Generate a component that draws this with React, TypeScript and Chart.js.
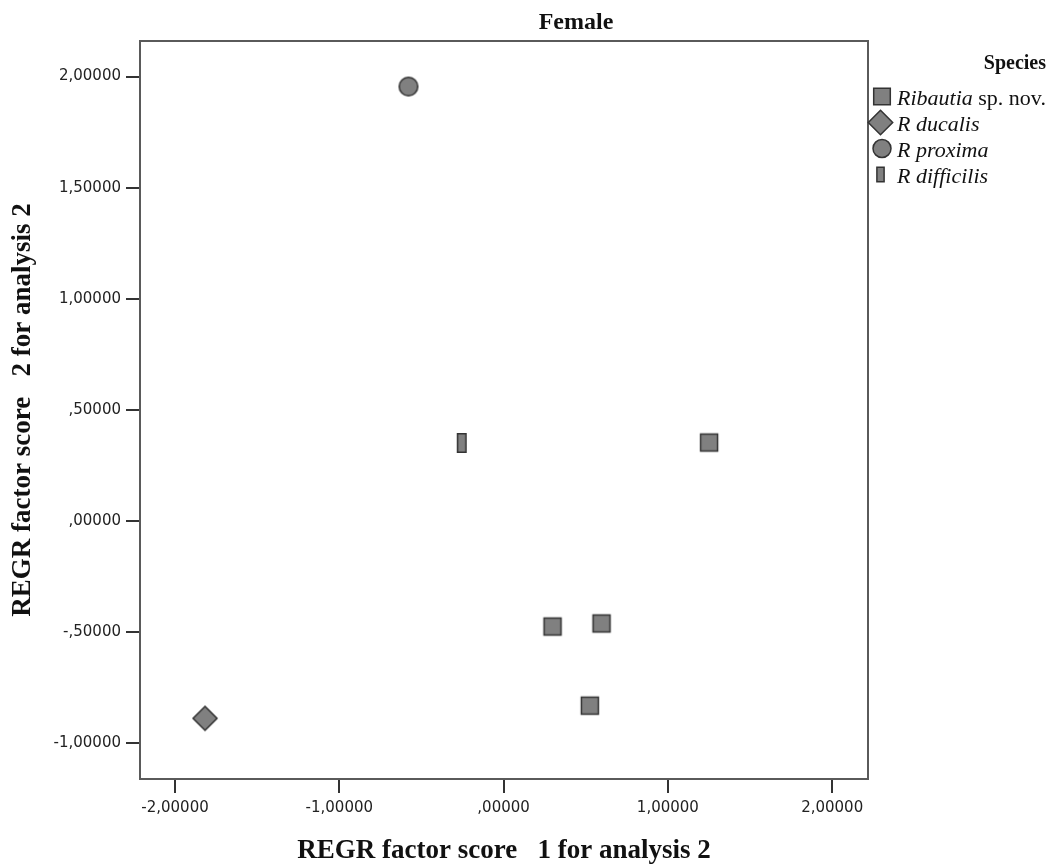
import React, { useEffect, useRef } from 'react';
import { Chart, registerables } from 'chart.js';

Chart.register(...registerables);

const chartTitle = 'Female';
const xAxisTitle = 'REGR factor score   1 for analysis 2';
const yAxisTitle = 'REGR factor score   2 for analysis 2';
const legendTitle = 'Species';

const seriesItalic = ['Ribautia', 'R ducalis', 'R proxima', 'R difficilis'];
const seriesPlain = [' sp. nov.', '', '', ''];
const seriesShapes = ['square', 'diamond', 'circle', 'bar'];

const ribautiaX = [1.251, 0.298, 0.596, 0.525];
const ribautiaY = [0.353, -0.475, -0.461, -0.831];
const ducalisX = [-1.817];
const ducalisY = [-0.888];
const proximaX = [-0.579];
const proximaY = [1.955];
const difficilisX = [-0.255];
const difficilisY = [0.351];

const seriesX = [ribautiaX, ducalisX, proximaX, difficilisX];
const seriesY = [ribautiaY, ducalisY, proximaY, difficilisY];

const xTicks = [-2, -1, 0, 1, 2];
const yTicks = [-1, -0.5, 0, 0.5, 1, 1.5, 2];
const xRange = [-2.213, 2.218];
const yRange = [-1.161, 2.16];

const FILL = '#808080';
const STROKE = '#333333';

const fmt = (v: number) => {
  const s = Math.abs(v).toFixed(5).replace('.', ',');
  const t = s.startsWith('0,') ? s.slice(1) : s;
  return (v < 0 ? '-' : '') + t;
};

function shapePath(ctx: CanvasRenderingContext2D, shape: string, cx: number, cy: number, big: boolean) {
  ctx.beginPath();
  if (shape === 'square') {
    const h = big ? 8.5 : 8.3;
    ctx.rect(cx - h, cy - h, 2 * h, 2 * h);
  } else if (shape === 'diamond') {
    const r = big ? 12 : 12.2;
    ctx.moveTo(cx, cy - r);
    ctx.lineTo(cx + r, cy);
    ctx.lineTo(cx, cy + r);
    ctx.lineTo(cx - r, cy);
    ctx.closePath();
  } else if (shape === 'circle') {
    const r = big ? 9.3 : 9;
    ctx.arc(cx, cy, r, 0, Math.PI * 2);
  } else {
    const w = big ? 4.25 : 3.6;
    const h = big ? 9.3 : 7.3;
    ctx.rect(cx - w, cy - h, 2 * w, 2 * h);
  }
}

function drawShape(ctx: CanvasRenderingContext2D, shape: string, cx: number, cy: number, big: boolean) {
  ctx.save();
  shapePath(ctx, shape, cx, cy, big);
  ctx.fillStyle = FILL;
  ctx.fill();
  ctx.lineWidth = 1.5;
  ctx.strokeStyle = STROKE;
  ctx.stroke();
  ctx.restore();
}

function makeMarker(shape: string): HTMLCanvasElement {
  const c = document.createElement('canvas');
  c.width = 30;
  c.height = 30;
  const ctx = c.getContext('2d') as CanvasRenderingContext2D;
  drawShape(ctx, shape, 15, 15, true);
  return c;
}

const framePlugin = {
  id: 'frameAndText',
  beforeDatasetsDraw(chart: any) {
    const { ctx, chartArea } = chart;
    ctx.save();
    ctx.strokeStyle = '#5a5a5a';
    ctx.lineWidth = 2;
    ctx.strokeRect(chartArea.left, chartArea.top, chartArea.right - chartArea.left, chartArea.bottom - chartArea.top);
    ctx.restore();
  },
  afterDraw(chart: any) {
    const { ctx } = chart;
    ctx.save();
    ctx.fillStyle = '#111';
    ctx.textBaseline = 'alphabetic';
    ctx.textAlign = 'center';
    ctx.font = 'bold 24px "Liberation Serif"';
    ctx.fillText(chartTitle, 576, 29);

    ctx.textAlign = 'right';
    ctx.font = 'bold 20px "Liberation Serif"';
    ctx.fillText(legendTitle, 1046, 69);

    ctx.textAlign = 'left';
    for (let i = 0; i < seriesItalic.length; i++) {
      const rowY = 96.5 + i * 26;
      const mx = seriesShapes[i] === 'square' || seriesShapes[i] === 'circle' ? 882 : 880.5;
      drawShape(ctx, seriesShapes[i], mx, rowY, false);
      ctx.fillStyle = '#111';
      ctx.font = 'italic 22px "Liberation Serif"';
      ctx.fillText(seriesItalic[i], 897, rowY + 8);
      const w = ctx.measureText(seriesItalic[i]).width;
      if (seriesPlain[i]) {
        ctx.font = '22px "Liberation Serif"';
        ctx.fillText(seriesPlain[i], 897 + w, rowY + 8);
      }
    }
    ctx.restore();
  },
};

export default function App() {
  const ref = useRef<HTMLCanvasElement | null>(null);

  useEffect(() => {
    if (!ref.current) return;
    const datasets = seriesItalic.map((name, i) => ({
      label: name + seriesPlain[i],
      data: seriesX[i].map((x, j) => ({ x, y: seriesY[i][j] })),
      pointStyle: makeMarker(seriesShapes[i]) as any,
      pointRadius: 10,
      pointHoverRadius: 10,
      backgroundColor: FILL,
      borderColor: STROKE,
    }));

    const tickFont = { family: 'DejaVu Sans', size: 15 };
    const titleFont = { family: 'Liberation Serif', size: 27, weight: 'bold' };
    const chart = new Chart(ref.current, {
      type: 'scatter',
      data: { datasets },
      plugins: [framePlugin],
      options: {
        animation: false,
        responsive: false,
        devicePixelRatio: 1,
        events: [],
        layout: { padding: { left: 0, top: 41, right: 189, bottom: 0 } },
        plugins: {
          legend: { display: false },
          title: { display: false },
          tooltip: { enabled: false },
        },
        scales: {
          x: {
            type: 'linear',
            min: xRange[0],
            max: xRange[1],
            afterBuildTicks: (scale: any) => {
              scale.ticks = xTicks.map((v) => ({ value: v }));
            },
            afterFit: (scale: any) => {
              scale.height = 89;
            },
            ticks: {
              callback: (v: any) => fmt(Number(v)),
              font: tickFont,
              color: '#222',
              padding: 6,
              maxRotation: 0,
              autoSkip: false,
            },
            grid: {
              drawOnChartArea: false,
              drawTicks: true,
              tickLength: 14,
              color: '#333',
              lineWidth: 2,
            },
            border: { display: false },
            title: {
              display: true,
              text: xAxisTitle,
              font: titleFont,
              color: '#111',
              padding: { top: 0, bottom: 0.5 },
            },
          },
          y: {
            type: 'linear',
            min: yRange[0],
            max: yRange[1],
            afterBuildTicks: (scale: any) => {
              scale.ticks = yTicks.map((v) => ({ value: v }));
            },
            afterFit: (scale: any) => {
              scale.width = 140;
            },
            ticks: {
              callback: (v: any) => fmt(Number(v)),
              font: tickFont,
              color: '#222',
              padding: 5,
              autoSkip: false,
            },
            grid: {
              drawOnChartArea: false,
              drawTicks: true,
              tickLength: 14,
              color: '#333',
              lineWidth: 2,
            },
            border: { display: false },
            title: {
              display: true,
              text: yAxisTitle,
              font: titleFont,
              color: '#111',
              padding: { top: 7, bottom: 0 },
            },
          },
        },
      } as any,
    });
    return () => chart.destroy();
  }, []);

  return (
    <canvas
      ref={ref}
      width={1057}
      height={868}
      style={{ position: 'absolute', left: 0, top: 0, display: 'block', background: '#fff' }}
    />
  );
}
